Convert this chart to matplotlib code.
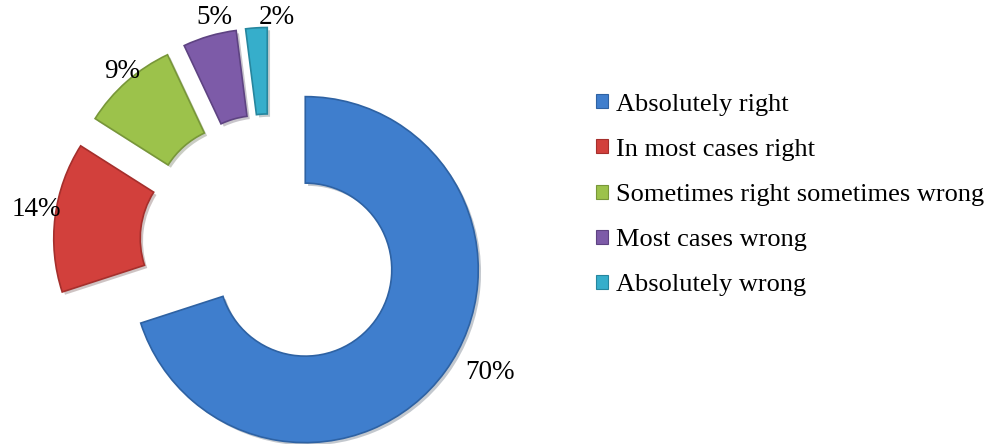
import numpy as np
import matplotlib.pyplot as plt
import matplotlib.patheffects as pe
from matplotlib.patches import Patch

# Survey answers
categories = ['Absolutely right', 'In most cases right',
              'Sometimes right sometimes wrong', 'Most cases wrong',
              'Absolutely wrong']
shares = [70, 14, 9, 5, 2]
colors = ['#3F7ECD', '#D2403C', '#9CC24B', '#7D5BA8', '#36AECB']
edges = ['#2E62A3', '#A52F2C', '#789739', '#5E4382', '#26869E']

plt.rcParams['font.family'] = ['Liberation Serif', 'DejaVu Serif']

fig = plt.figure(figsize=(9.95, 4.44), dpi=100)
ax = fig.add_axes([0, 0, 1, 1])

# one data unit = 173 px, pie centre at pixel (270, 244)
px = 173.0

wedges, _, autotexts = ax.pie(
    shares, colors=colors, startangle=90, counterclock=False,
    explode=[0.252] * len(shares), radius=1.0, autopct='%d%%',
    pctdistance=1.12,
    wedgeprops=dict(width=0.5, linewidth=1.2),
    textprops=dict(fontsize=19.5, color='black'))
ax.axis('off')
ax.set_xlim(-270 / px, (995 - 270) / px)
ax.set_ylim((244 - 444) / px, 244 / px)
ax.set_aspect('auto')

for w, ec in zip(wedges, edges):
    w.set_edgecolor(ec)
    w.set_path_effects([pe.SimplePatchShadow(offset=(2, -2), alpha=0.25),
                        pe.Normal()])

# label radius and angular nudge (degrees) for each slice
label_r = [1.472, 1.365, 1.312, 1.349, 1.310]
label_shift = [5.6, -1.3, -0.7, -2.3, -5.4]
start = 90.0
for t, s, r, d in zip(autotexts, shares, label_r, label_shift):
    mid = np.deg2rad(start - s * 3.6 / 2 + d)
    t.set_position((r * np.cos(mid), r * np.sin(mid)))
    start -= s * 3.6

handles = [Patch(facecolor=c, edgecolor=e, linewidth=0.8) for c, e in zip(colors, edges)]
fig.legend(handles, categories, loc='center left',
           bbox_to_anchor=(596 / 995, 1 - 195 / 444), frameon=False,
           fontsize=19, handlelength=0.45, handleheight=0.45,
           handletextpad=0.3, labelspacing=0.88, borderpad=0,
           borderaxespad=0)

fig.savefig('out.png', dpi=100)
